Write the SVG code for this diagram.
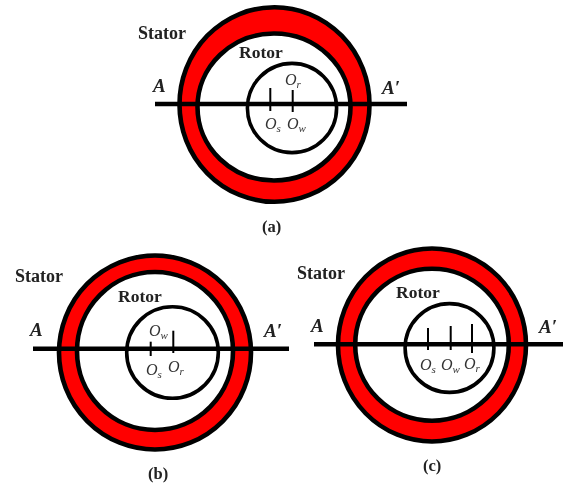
<svg xmlns="http://www.w3.org/2000/svg" width="563" height="489" viewBox="0 0 563 489">
<defs><filter id="soft" x="-5%" y="-5%" width="110%" height="110%"><feGaussianBlur stdDeviation="0.4"/></filter></defs>
<style>
g{filter:url(#soft)}
.st{fill:#f00;stroke:#000;stroke-width:4.6}
.in{fill:#fff;stroke:#000;stroke-width:4.6}
.ro{fill:none;stroke:#000;stroke-width:3.6}
.ln{stroke:#000;stroke-width:4.6}
.t{stroke:#000;stroke-width:2}
.lb{font-family:"Liberation Serif",serif;font-weight:bold;font-size:18px;fill:#222}
.rt{font-size:17.5px}
.cap{font-family:"Liberation Serif",serif;font-weight:bold;font-size:16.5px;fill:#222}
.a{font-family:"Liberation Serif",serif;font-weight:bold;font-style:italic;font-size:19px;fill:#222}
.o{font-family:"Liberation Serif",serif;font-style:italic;font-size:16px;fill:#333}
.s{font-size:11px}
</style>
<rect width="563" height="489" fill="#fff"/>
<g id="diagram-a">
<ellipse class="st" cx="274.5" cy="104.5" rx="95" ry="97.3"/>
<ellipse class="in" cx="274" cy="107" rx="76.5" ry="73.5"/>
<circle class="ro" cx="292" cy="108" r="44.6"/>
<line class="ln" x1="155" y1="104" x2="407" y2="104"/>
<line class="t" x1="270.3" y1="88" x2="270.3" y2="111"/>
<line class="t" x1="292.7" y1="90" x2="292.7" y2="112"/>
<text class="lb" x="138" y="39">Stator</text>
<text class="lb rt" x="239" y="58">Rotor</text>
<text class="a" x="153" y="92">A</text>
<text class="a" x="382" y="94">A′</text>
<text class="o" x="285" y="85">O<tspan class="s" dy="3">r</tspan></text>
<text class="o" x="265" y="129">O<tspan class="s" dy="3">s</tspan></text>
<text class="o" x="287" y="129">O<tspan class="s" dy="3">w</tspan></text>
<text class="cap" x="262" y="232">(a)</text>
</g>
<g id="diagram-b">
<ellipse class="st" cx="155" cy="352.5" rx="96" ry="97"/>
<ellipse class="in" cx="155" cy="351" rx="78" ry="79"/>
<circle class="ro" cx="172.5" cy="352.5" r="45.8"/>
<line class="ln" x1="33" y1="348.7" x2="289" y2="348.7"/>
<line class="t" x1="150.7" y1="341.7" x2="150.7" y2="356"/>
<line class="t" x1="173.3" y1="330.7" x2="173.3" y2="353"/>
<text class="lb" x="15" y="282">Stator</text>
<text class="lb rt" x="118" y="302">Rotor</text>
<text class="a" x="30" y="336">A</text>
<text class="a" x="264" y="337">A′</text>
<text class="o" x="149" y="336">O<tspan class="s" dy="3">w</tspan></text>
<text class="o" x="146" y="375">O<tspan class="s" dy="3">s</tspan></text>
<text class="o" x="168" y="372">O<tspan class="s" dy="3">r</tspan></text>
<text class="cap" x="148" y="479">(b)</text>
</g>
<g id="diagram-c">
<ellipse class="st" cx="432" cy="345" rx="94" ry="96.5"/>
<ellipse class="in" cx="432" cy="344.7" rx="76.8" ry="76"/>
<circle class="ro" cx="449.5" cy="348" r="44.4"/>
<line class="ln" x1="314" y1="344.3" x2="563" y2="344.3"/>
<line class="t" x1="428" y1="328" x2="428" y2="350"/>
<line class="t" x1="450.7" y1="326" x2="450.7" y2="350"/>
<line class="t" x1="472" y1="324" x2="472" y2="353"/>
<text class="lb" x="297" y="279">Stator</text>
<text class="lb rt" x="396" y="298">Rotor</text>
<text class="a" x="311" y="332">A</text>
<text class="a" x="539" y="333">A′</text>
<text class="o" x="420" y="370">O<tspan class="s" dy="3">s</tspan></text>
<text class="o" x="441" y="370">O<tspan class="s" dy="3">w</tspan></text>
<text class="o" x="464" y="369">O<tspan class="s" dy="3">r</tspan></text>
<text class="cap" x="423" y="471">(c)</text>
</g>
</svg>
